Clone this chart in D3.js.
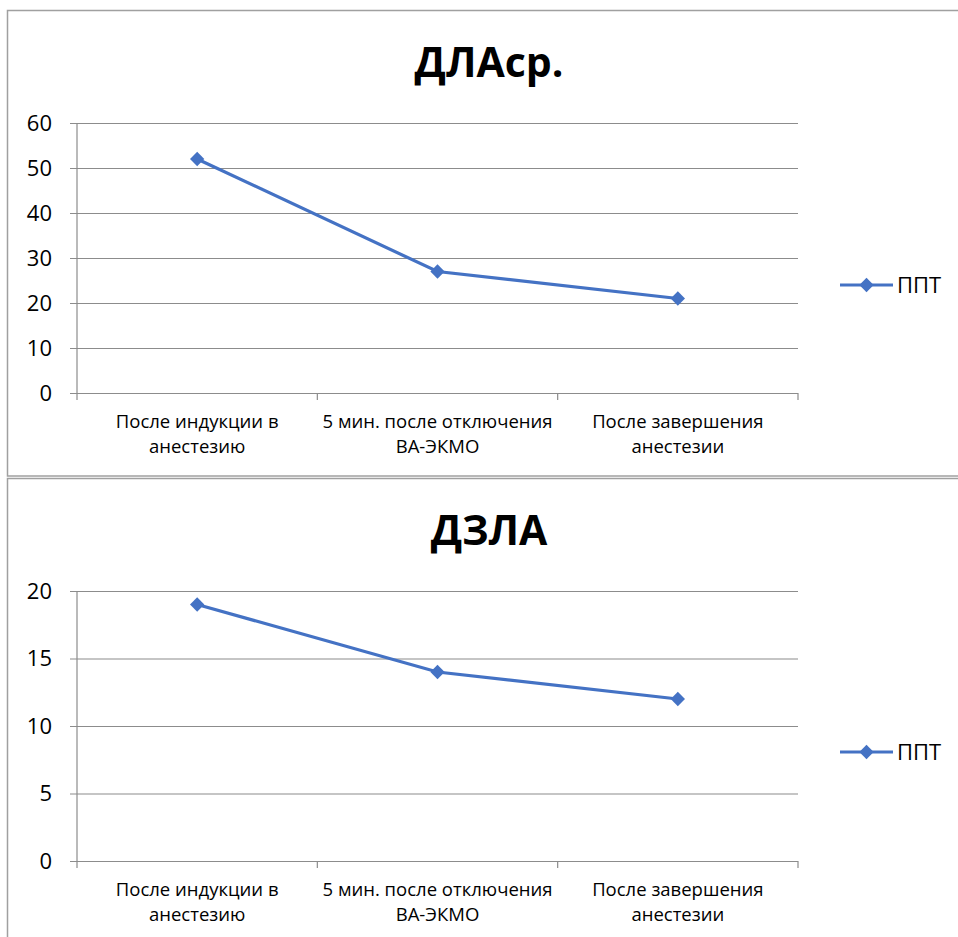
<!DOCTYPE html>
<html>
<head>
<meta charset="utf-8">
<script src="https://cdn.jsdelivr.net/npm/d3@7"></script>
<style>
  html, body { margin: 0; padding: 0; background: #fff; }
  svg { display: block; }
</style>
</head>
<body>
<svg id="chart" width="958" height="937"></svg>
<script>
// Measurement stages (shared by both panels)
const categories = [
  ["После индукции в", "анестезию"],
  ["5 мин. после отключения", "ВА-ЭКМО"],
  ["После завершения", "анестезии"]
];
const seriesName = "ППТ";

// Mean pulmonary artery pressure
const dlaTitle = "ДЛАср.";
const dlaValues = [52, 27, 21];
const dlaTicks = [0, 10, 20, 30, 40, 50, 60];

// Pulmonary artery wedge pressure
const dzlaTitle = "ДЗЛА";
const dzlaValues = [19, 14, 12];
const dzlaTicks = [0, 5, 10, 15, 20];

const FONT = "'Open Sans', 'Noto Sans', sans-serif";
const LINE_COLOR = "#4472C4";
const GRID_COLOR = "#8c8c8c";

const svg = d3.select("#chart");

// Panel frames
svg.append("rect")
  .attr("x", 7.5).attr("y", 10.5).attr("width", 1000).attr("height", 465.5)
  .attr("fill", "none").attr("stroke", "#a0a0a0").attr("stroke-width", 1.5);
svg.append("rect")
  .attr("x", 7.5).attr("y", 478.5).attr("width", 1000).attr("height", 600)
  .attr("fill", "none").attr("stroke", "#a0a0a0").attr("stroke-width", 1.5);

function drawPanel(cfg) {
  const g = svg.append("g");
  const left = 77, right = 798;

  const x = d3.scaleBand().domain(d3.range(categories.length)).range([left, right]);
  const y = d3.scaleLinear().domain([0, d3.max(cfg.ticks)]).range([cfg.bottom, cfg.top]);

  // Title
  g.append("text")
    .attr("x", 489).attr("y", cfg.titleY)
    .attr("text-anchor", "middle")
    .attr("font-family", FONT).attr("font-weight", "bold").attr("font-size", 41)
    .attr("fill", "#000")
    .text(cfg.title);

  // Horizontal gridlines with tick stubs on the left
  const yAxis = d3.axisLeft(y).tickValues(cfg.ticks).tickSize(right - left + 7).tickPadding(18)
    .tickFormat(d3.format("d"));
  const ya = g.append("g").attr("transform", `translate(${right},0)`).call(yAxis);
  ya.select(".domain").remove();
  ya.selectAll(".tick line").attr("stroke", GRID_COLOR).attr("stroke-width", 1.2);
  ya.selectAll(".tick text")
    .attr("font-family", FONT).attr("font-size", 22).attr("fill", "#000");

  // Vertical axis line
  g.append("line")
    .attr("x1", left).attr("x2", left).attr("y1", cfg.top).attr("y2", cfg.bottom)
    .attr("stroke", GRID_COLOR).attr("stroke-width", 1.2);

  // Category boundary ticks below the x axis
  const bounds = d3.range(categories.length + 1).map(i => left + i * x.bandwidth());
  g.selectAll(".xtick").data(bounds).join("line")
    .attr("x1", d => d).attr("x2", d => d)
    .attr("y1", cfg.bottom).attr("y2", cfg.bottom + 7)
    .attr("stroke", GRID_COLOR).attr("stroke-width", 1.2);

  // Category labels (two lines each)
  const lbl = g.selectAll(".xlabel").data(categories).join("text")
    .attr("text-anchor", "middle")
    .attr("font-family", FONT).attr("font-size", 18.5).attr("fill", "#000");
  lbl.each(function(lines, i) {
    const t = d3.select(this);
    lines.forEach((s, k) => {
      t.append("tspan")
        .attr("x", x(i) + x.bandwidth() / 2)
        .attr("y", cfg.bottom + 35 + k * 24.5)
        .text(s);
    });
  });

  // Series line
  const line = d3.line()
    .x((d, i) => x(i) + x.bandwidth() / 2)
    .y(d => y(d));
  g.append("path")
    .datum(cfg.values)
    .attr("d", line)
    .attr("fill", "none").attr("stroke", LINE_COLOR).attr("stroke-width", 3.2);

  const diamond = d3.symbol().type(d3.symbolDiamond2).size(130);
  g.selectAll(".pt").data(cfg.values).join("path")
    .attr("d", diamond)
    .attr("transform", (d, i) => `translate(${x(i) + x.bandwidth() / 2},${y(d)})`)
    .attr("fill", LINE_COLOR);

  // Legend
  const ly = cfg.legendY;
  g.append("line")
    .attr("x1", 840).attr("x2", 893).attr("y1", ly).attr("y2", ly)
    .attr("stroke", LINE_COLOR).attr("stroke-width", 3.2);
  g.append("path")
    .attr("d", diamond)
    .attr("transform", `translate(866.5,${ly})`)
    .attr("fill", LINE_COLOR);
  g.append("text")
    .attr("x", 897).attr("y", ly + 8)
    .attr("font-family", FONT).attr("font-size", 22).attr("fill", "#000")
    .text(seriesName);
}

drawPanel({
  title: dlaTitle, values: dlaValues, ticks: dlaTicks,
  top: 123, bottom: 393, titleY: 77, legendY: 285
});
drawPanel({
  title: dzlaTitle, values: dzlaValues, ticks: dzlaTicks,
  top: 591, bottom: 861, titleY: 545, legendY: 752
});
</script>
</body>
</html>
